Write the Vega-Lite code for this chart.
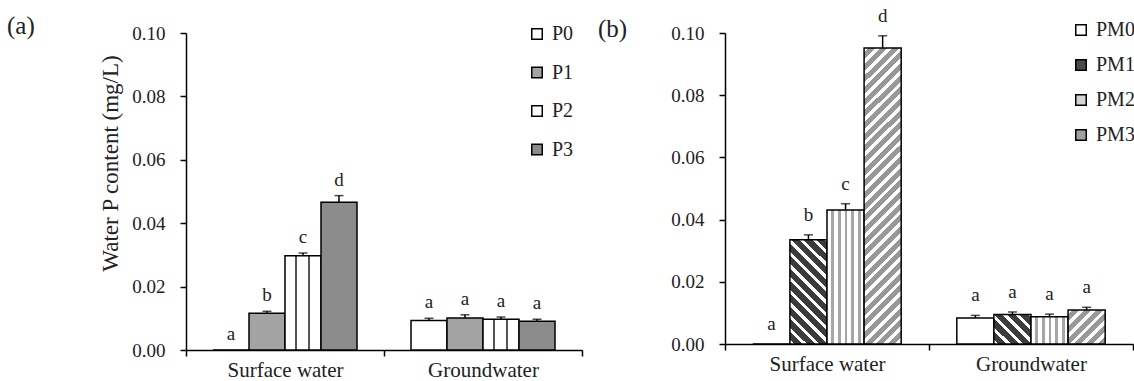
{
  "$schema": "https://vega.github.io/schema/vega-lite/v6.json",
  "padding": {"left": 7, "top": 6, "right": 0, "bottom": 0},
  "background": "white",
  "spacing": 15,
  "resolve": {"scale": {"fill": "independent", "xOffset": "independent", "x": "independent", "y": "independent"}, "legend": {"fill": "independent"}, "axis": {"x": "independent", "y": "independent"}},
  "config": {
    "view": {"stroke": null},
    "font": "Liberation Serif",
    "axis": {"domainColor": "#000", "domainWidth": 1.5, "tickColor": "#000", "tickWidth": 1.5, "tickSize": 6, "labelColor": "#222", "titleColor": "#222", "labelFont": "Liberation Serif", "titleFont": "Liberation Serif", "grid": false, "titleFontWeight": "normal"},
    "axisX": {"labelFontSize": 21, "labelAngle": 0, "tickBand": "extent", "labelPadding": 3},
    "axisY": {"labelFontSize": 19, "labelPadding": 15, "titleFontSize": 23, "titlePadding": 9},
    "legend": {"orient": "none", "symbolType": "square", "symbolSize": 110, "symbolStrokeColor": "#000", "symbolStrokeWidth": 1.5, "labelFont": "Liberation Serif", "labelFontSize": 20, "labelColor": "#222", "labelOffset": 5},
    "title": {"font": "Liberation Serif", "fontSize": 25, "fontWeight": "normal", "anchor": "start", "frame": "group", "color": "#222"}
  },
  "hconcat": [
    {
      "width": 396,
      "height": 317,
      "title": {"text": "(a)", "dx": -179, "dy": 19},
      "data": {"values": [
        {"site": "Surface water", "treat": "P0", "value": 0, "upper": 0, "sig": "a"},
        {"site": "Surface water", "treat": "P1", "value": 0.0116, "upper": 0.0122, "sig": "b"},
        {"site": "Surface water", "treat": "P2", "value": 0.0297, "upper": 0.0306, "sig": "c"},
        {"site": "Surface water", "treat": "P3", "value": 0.0466, "upper": 0.0487, "sig": "d"},
        {"site": "Groundwater", "treat": "P0", "value": 0.0093, "upper": 0.0100, "sig": "a"},
        {"site": "Groundwater", "treat": "P1", "value": 0.0101, "upper": 0.0111, "sig": "a"},
        {"site": "Groundwater", "treat": "P2", "value": 0.0097, "upper": 0.0104, "sig": "a"},
        {"site": "Groundwater", "treat": "P3", "value": 0.0091, "upper": 0.0097, "sig": "a"}
      ]},
      "encoding": {
        "x": {"field": "site", "type": "nominal", "sort": ["Surface water", "Groundwater"], "title": null, "scale": {"paddingInner": 0, "paddingOuter": 0}},
        "xOffset": {"field": "treat", "type": "nominal", "sort": ["P0", "P1", "P2", "P3"], "scale": {"paddingInner": 0, "paddingOuter": 0.75}}
      },
      "layer": [
        {
          "mark": {"type": "bar", "stroke": "#000", "strokeWidth": 1.5},
          "encoding": {
            "y": {"field": "value", "type": "quantitative", "title": "Water  P content (mg/L)", "scale": {"domain": [0, 0.1], "nice": false}, "axis": {"values": [0, 0.02, 0.04, 0.06, 0.08, 0.1], "format": ".2f", "titleY": 130}},
            "fill": {
              "field": "treat", "type": "nominal",
              "scale": {"domain": ["P0", "P1", "P2", "P3"], "range": ["#ffffff", "#a3a3a3", "#ffffff", "#8c8c8c"]},
              "legend": {"title": null, "legendX": 341, "legendY": -9, "rowPadding": 18.5},
              "condition": [
                {"test": "datum.treat === 'P2'", "value": {"gradient": "linear", "x1": 0, "y1": 0, "x2": 1, "y2": 0, "stops": [
                  {"offset": 0, "color": "#fff"}, {"offset": 0.28, "color": "#fff"}, {"offset": 0.28, "color": "#555"}, {"offset": 0.33, "color": "#555"},
                  {"offset": 0.33, "color": "#fff"}, {"offset": 0.64, "color": "#fff"}, {"offset": 0.64, "color": "#555"}, {"offset": 0.69, "color": "#555"},
                  {"offset": 0.69, "color": "#fff"}, {"offset": 1, "color": "#fff"}]}}
              ]
            }
          }
        },
        {
          "transform": [{"filter": "datum.upper > datum.value"}],
          "mark": {"type": "rule", "color": "#000", "strokeWidth": 1.5},
          "encoding": {"y": {"field": "value", "type": "quantitative", "title": "Water  P content (mg/L)"}, "y2": {"field": "upper"}}
        },
        {
          "transform": [{"filter": "datum.upper > datum.value"}],
          "mark": {"type": "tick", "color": "#000", "thickness": 1.5, "size": 9},
          "encoding": {"y": {"field": "upper", "type": "quantitative", "title": "Water  P content (mg/L)"}}
        },
        {
          "mark": {"type": "text", "dy": -10, "baseline": "alphabetic", "fontSize": 19, "color": "#222", "font": "Liberation Serif"},
          "encoding": {"y": {"field": "upper", "type": "quantitative", "title": "Water  P content (mg/L)"}, "text": {"field": "sig"}}
        }
      ]
    },
    {
      "width": 408,
      "height": 311,
      "title": {"text": "(b)", "dx": -127, "dy": 39},
      "data": {"values": [
        {"site": "Surface water", "treat": "PM0", "value": 0, "upper": 0, "sig": "a"},
        {"site": "Surface water", "treat": "PM1", "value": 0.0335, "upper": 0.0351, "sig": "b"},
        {"site": "Surface water", "treat": "PM2", "value": 0.0431, "upper": 0.0451, "sig": "c"},
        {"site": "Surface water", "treat": "PM3", "value": 0.0952, "upper": 0.0991, "sig": "d"},
        {"site": "Groundwater", "treat": "PM0", "value": 0.0084, "upper": 0.0092, "sig": "a"},
        {"site": "Groundwater", "treat": "PM1", "value": 0.0095, "upper": 0.0103, "sig": "a"},
        {"site": "Groundwater", "treat": "PM2", "value": 0.0088, "upper": 0.0096, "sig": "a"},
        {"site": "Groundwater", "treat": "PM3", "value": 0.0109, "upper": 0.0118, "sig": "a"}
      ]},
      "encoding": {
        "x": {"field": "site", "type": "nominal", "sort": ["Surface water", "Groundwater"], "title": null, "scale": {"paddingInner": 0, "paddingOuter": 0}},
        "xOffset": {"field": "treat", "type": "nominal", "sort": ["PM0", "PM1", "PM2", "PM3"], "scale": {"paddingInner": 0, "paddingOuter": 0.75}}
      },
      "layer": [
        {
          "mark": {"type": "bar", "stroke": "#000", "strokeWidth": 1.5},
          "encoding": {
            "y": {"field": "value", "type": "quantitative", "title": null, "scale": {"domain": [0, 0.1], "nice": false}, "axis": {"values": [0, 0.02, 0.04, 0.06, 0.08, 0.1], "format": ".2f"}},
            "fill": {
              "field": "treat", "type": "nominal",
              "scale": {"domain": ["PM0", "PM1", "PM2", "PM3"], "range": ["#ffffff", "#4a4a4a", "#d4d4d4", "#a0a0a0"]},
              "legend": {"title": null, "legendX": 346, "legendY": -13, "rowPadding": 15},
              "condition": [
                {"test": "datum.treat === 'PM2'", "value": {"gradient": "linear", "x1": 0, "y1": 0, "x2": 1, "y2": 0, "stops": [
                  {"offset": 0, "color": "#fff"}, {"offset": 0.12, "color": "#fff"}, {"offset": 0.12, "color": "#a6a6a6"}, {"offset": 0.19, "color": "#a6a6a6"},
                  {"offset": 0.19, "color": "#fff"}, {"offset": 0.30, "color": "#fff"}, {"offset": 0.30, "color": "#a6a6a6"}, {"offset": 0.37, "color": "#a6a6a6"},
                  {"offset": 0.37, "color": "#fff"}, {"offset": 0.48, "color": "#fff"}, {"offset": 0.48, "color": "#a6a6a6"}, {"offset": 0.55, "color": "#a6a6a6"},
                  {"offset": 0.55, "color": "#fff"}, {"offset": 0.66, "color": "#fff"}, {"offset": 0.66, "color": "#a6a6a6"}, {"offset": 0.73, "color": "#a6a6a6"},
                  {"offset": 0.73, "color": "#fff"}, {"offset": 0.84, "color": "#fff"}, {"offset": 0.84, "color": "#a6a6a6"}, {"offset": 0.91, "color": "#a6a6a6"},
                  {"offset": 0.91, "color": "#fff"}, {"offset": 1, "color": "#fff"}]}},
                {"test": "datum.treat === 'PM3' && datum.site === 'Surface water'", "value": {"gradient": "linear", "x1": 0, "y1": 0, "x2": 0.1383, "y2": 1.1075, "stops": [
                  {"offset": 0, "color": "#fff"}, {"offset": 0.014, "color": "#fff"}, {"offset": 0.014, "color": "#989898"}, {"offset": 0.035, "color": "#989898"},
                  {"offset": 0.035, "color": "#fff"}, {"offset": 0.049, "color": "#fff"}, {"offset": 0.049, "color": "#989898"}, {"offset": 0.07, "color": "#989898"},
                  {"offset": 0.07, "color": "#fff"}, {"offset": 0.084, "color": "#fff"}, {"offset": 0.084, "color": "#989898"}, {"offset": 0.105, "color": "#989898"},
                  {"offset": 0.105, "color": "#fff"}, {"offset": 0.119, "color": "#fff"}, {"offset": 0.119, "color": "#989898"}, {"offset": 0.14, "color": "#989898"},
                  {"offset": 0.14, "color": "#fff"}, {"offset": 0.154, "color": "#fff"}, {"offset": 0.154, "color": "#989898"}, {"offset": 0.175, "color": "#989898"},
                  {"offset": 0.175, "color": "#fff"}, {"offset": 0.189, "color": "#fff"}, {"offset": 0.189, "color": "#989898"}, {"offset": 0.21, "color": "#989898"},
                  {"offset": 0.21, "color": "#fff"}, {"offset": 0.224, "color": "#fff"}, {"offset": 0.224, "color": "#989898"}, {"offset": 0.245, "color": "#989898"},
                  {"offset": 0.245, "color": "#fff"}, {"offset": 0.259, "color": "#fff"}, {"offset": 0.259, "color": "#989898"}, {"offset": 0.28, "color": "#989898"},
                  {"offset": 0.28, "color": "#fff"}, {"offset": 0.294, "color": "#fff"}, {"offset": 0.294, "color": "#989898"}, {"offset": 0.315, "color": "#989898"},
                  {"offset": 0.315, "color": "#fff"}, {"offset": 0.329, "color": "#fff"}, {"offset": 0.329, "color": "#989898"}, {"offset": 0.35, "color": "#989898"},
                  {"offset": 0.35, "color": "#fff"}, {"offset": 0.364, "color": "#fff"}, {"offset": 0.364, "color": "#989898"}, {"offset": 0.385, "color": "#989898"},
                  {"offset": 0.385, "color": "#fff"}, {"offset": 0.399, "color": "#fff"}, {"offset": 0.399, "color": "#989898"}, {"offset": 0.42, "color": "#989898"},
                  {"offset": 0.42, "color": "#fff"}, {"offset": 0.434, "color": "#fff"}, {"offset": 0.434, "color": "#989898"}, {"offset": 0.455, "color": "#989898"},
                  {"offset": 0.455, "color": "#fff"}, {"offset": 0.469, "color": "#fff"}, {"offset": 0.469, "color": "#989898"}, {"offset": 0.49, "color": "#989898"},
                  {"offset": 0.49, "color": "#fff"}, {"offset": 0.504, "color": "#fff"}, {"offset": 0.504, "color": "#989898"}, {"offset": 0.525, "color": "#989898"},
                  {"offset": 0.525, "color": "#fff"}, {"offset": 0.539, "color": "#fff"}, {"offset": 0.539, "color": "#989898"}, {"offset": 0.56, "color": "#989898"},
                  {"offset": 0.56, "color": "#fff"}, {"offset": 0.574, "color": "#fff"}, {"offset": 0.574, "color": "#989898"}, {"offset": 0.595, "color": "#989898"},
                  {"offset": 0.595, "color": "#fff"}, {"offset": 0.609, "color": "#fff"}, {"offset": 0.609, "color": "#989898"}, {"offset": 0.63, "color": "#989898"},
                  {"offset": 0.63, "color": "#fff"}, {"offset": 0.644, "color": "#fff"}, {"offset": 0.644, "color": "#989898"}, {"offset": 0.665, "color": "#989898"},
                  {"offset": 0.665, "color": "#fff"}, {"offset": 0.679, "color": "#fff"}, {"offset": 0.679, "color": "#989898"}, {"offset": 0.7, "color": "#989898"},
                  {"offset": 0.7, "color": "#fff"}, {"offset": 0.714, "color": "#fff"}, {"offset": 0.714, "color": "#989898"}, {"offset": 0.735, "color": "#989898"},
                  {"offset": 0.735, "color": "#fff"}, {"offset": 0.749, "color": "#fff"}, {"offset": 0.749, "color": "#989898"}, {"offset": 0.77, "color": "#989898"},
                  {"offset": 0.77, "color": "#fff"}, {"offset": 0.784, "color": "#fff"}, {"offset": 0.784, "color": "#989898"}, {"offset": 0.805, "color": "#989898"},
                  {"offset": 0.805, "color": "#fff"}, {"offset": 0.819, "color": "#fff"}, {"offset": 0.819, "color": "#989898"}, {"offset": 0.84, "color": "#989898"},
                  {"offset": 0.84, "color": "#fff"}, {"offset": 0.854, "color": "#fff"}, {"offset": 0.854, "color": "#989898"}, {"offset": 0.875, "color": "#989898"},
                  {"offset": 0.875, "color": "#fff"}, {"offset": 0.889, "color": "#fff"}, {"offset": 0.889, "color": "#989898"}, {"offset": 0.91, "color": "#989898"},
                  {"offset": 0.91, "color": "#fff"}, {"offset": 0.924, "color": "#fff"}, {"offset": 0.924, "color": "#989898"}, {"offset": 0.945, "color": "#989898"},
                  {"offset": 0.945, "color": "#fff"}, {"offset": 0.959, "color": "#fff"}, {"offset": 0.959, "color": "#989898"}, {"offset": 0.98, "color": "#989898"},
                  {"offset": 0.98, "color": "#fff"}, {"offset": 0.994, "color": "#fff"}, {"offset": 0.994, "color": "#989898"}, {"offset": 1, "color": "#989898"}]}},
                {"test": "datum.treat === 'PM3'", "value": {"gradient": "linear", "x1": 0, "y1": 0, "x2": 1.0415, "y2": 0.9548, "stops": [
                  {"offset": 0, "color": "#fff"}, {"offset": 0.066, "color": "#fff"}, {"offset": 0.066, "color": "#989898"}, {"offset": 0.164, "color": "#989898"},
                  {"offset": 0.164, "color": "#fff"}, {"offset": 0.23, "color": "#fff"}, {"offset": 0.23, "color": "#989898"}, {"offset": 0.328, "color": "#989898"},
                  {"offset": 0.328, "color": "#fff"}, {"offset": 0.394, "color": "#fff"}, {"offset": 0.394, "color": "#989898"}, {"offset": 0.492, "color": "#989898"},
                  {"offset": 0.492, "color": "#fff"}, {"offset": 0.558, "color": "#fff"}, {"offset": 0.558, "color": "#989898"}, {"offset": 0.656, "color": "#989898"},
                  {"offset": 0.656, "color": "#fff"}, {"offset": 0.722, "color": "#fff"}, {"offset": 0.722, "color": "#989898"}, {"offset": 0.82, "color": "#989898"},
                  {"offset": 0.82, "color": "#fff"}, {"offset": 0.886, "color": "#fff"}, {"offset": 0.886, "color": "#989898"}, {"offset": 0.984, "color": "#989898"},
                  {"offset": 0.984, "color": "#fff"}, {"offset": 1, "color": "#fff"}]}},
                {"test": "datum.treat === 'PM1' && datum.site === 'Surface water'", "value": {"gradient": "linear", "x1": 0, "y1": 1, "x2": 0.4267, "y2": -0.2033, "stops": [
                  {"offset": 0, "color": "#fff"}, {"offset": 0.0313, "color": "#fff"}, {"offset": 0.0313, "color": "#3c3c3c"}, {"offset": 0.0894, "color": "#3c3c3c"},
                  {"offset": 0.0894, "color": "#fff"}, {"offset": 0.1207, "color": "#fff"}, {"offset": 0.1207, "color": "#3c3c3c"}, {"offset": 0.1788, "color": "#3c3c3c"},
                  {"offset": 0.1788, "color": "#fff"}, {"offset": 0.2101, "color": "#fff"}, {"offset": 0.2101, "color": "#3c3c3c"}, {"offset": 0.2682, "color": "#3c3c3c"},
                  {"offset": 0.2682, "color": "#fff"}, {"offset": 0.2995, "color": "#fff"}, {"offset": 0.2995, "color": "#3c3c3c"}, {"offset": 0.3576, "color": "#3c3c3c"},
                  {"offset": 0.3576, "color": "#fff"}, {"offset": 0.3889, "color": "#fff"}, {"offset": 0.3889, "color": "#3c3c3c"}, {"offset": 0.447, "color": "#3c3c3c"},
                  {"offset": 0.447, "color": "#fff"}, {"offset": 0.4783, "color": "#fff"}, {"offset": 0.4783, "color": "#3c3c3c"}, {"offset": 0.5364, "color": "#3c3c3c"},
                  {"offset": 0.5364, "color": "#fff"}, {"offset": 0.5677, "color": "#fff"}, {"offset": 0.5677, "color": "#3c3c3c"}, {"offset": 0.6258, "color": "#3c3c3c"},
                  {"offset": 0.6258, "color": "#fff"}, {"offset": 0.6571, "color": "#fff"}, {"offset": 0.6571, "color": "#3c3c3c"}, {"offset": 0.7152, "color": "#3c3c3c"},
                  {"offset": 0.7152, "color": "#fff"}, {"offset": 0.7465, "color": "#fff"}, {"offset": 0.7465, "color": "#3c3c3c"}, {"offset": 0.8046, "color": "#3c3c3c"},
                  {"offset": 0.8046, "color": "#fff"}, {"offset": 0.8359, "color": "#fff"}, {"offset": 0.8359, "color": "#3c3c3c"}, {"offset": 0.894, "color": "#3c3c3c"},
                  {"offset": 0.894, "color": "#fff"}, {"offset": 0.9253, "color": "#fff"}, {"offset": 0.9253, "color": "#3c3c3c"}, {"offset": 0.9834, "color": "#3c3c3c"},
                  {"offset": 0.9834, "color": "#fff"}, {"offset": 1, "color": "#fff"}]}},
                {"test": "datum.treat === 'PM1'", "value": {"gradient": "linear", "x1": 0, "y1": 1, "x2": 1.0983, "y2": 0.1231, "stops": [
                  {"offset": 0, "color": "#fff"}, {"offset": 0.0665, "color": "#fff"}, {"offset": 0.0665, "color": "#3c3c3c"}, {"offset": 0.19, "color": "#3c3c3c"},
                  {"offset": 0.19, "color": "#fff"}, {"offset": 0.2565, "color": "#fff"}, {"offset": 0.2565, "color": "#3c3c3c"}, {"offset": 0.38, "color": "#3c3c3c"},
                  {"offset": 0.38, "color": "#fff"}, {"offset": 0.4465, "color": "#fff"}, {"offset": 0.4465, "color": "#3c3c3c"}, {"offset": 0.57, "color": "#3c3c3c"},
                  {"offset": 0.57, "color": "#fff"}, {"offset": 0.6365, "color": "#fff"}, {"offset": 0.6365, "color": "#3c3c3c"}, {"offset": 0.76, "color": "#3c3c3c"},
                  {"offset": 0.76, "color": "#fff"}, {"offset": 0.8265, "color": "#fff"}, {"offset": 0.8265, "color": "#3c3c3c"}, {"offset": 0.95, "color": "#3c3c3c"},
                  {"offset": 0.95, "color": "#fff"}, {"offset": 1, "color": "#fff"}]}}
              ]
            }
          }
        },
        {
          "transform": [{"filter": "datum.upper > datum.value"}],
          "mark": {"type": "rule", "color": "#000", "strokeWidth": 1.5},
          "encoding": {"y": {"field": "value", "type": "quantitative", "title": null}, "y2": {"field": "upper"}}
        },
        {
          "transform": [{"filter": "datum.upper > datum.value"}],
          "mark": {"type": "tick", "color": "#000", "thickness": 1.5, "size": 9},
          "encoding": {"y": {"field": "upper", "type": "quantitative", "title": null}}
        },
        {
          "mark": {"type": "text", "dy": -14, "baseline": "alphabetic", "fontSize": 19, "color": "#222", "font": "Liberation Serif"},
          "encoding": {"y": {"field": "upper", "type": "quantitative", "title": null}, "text": {"field": "sig"}}
        }
      ]
    }
  ]
}
